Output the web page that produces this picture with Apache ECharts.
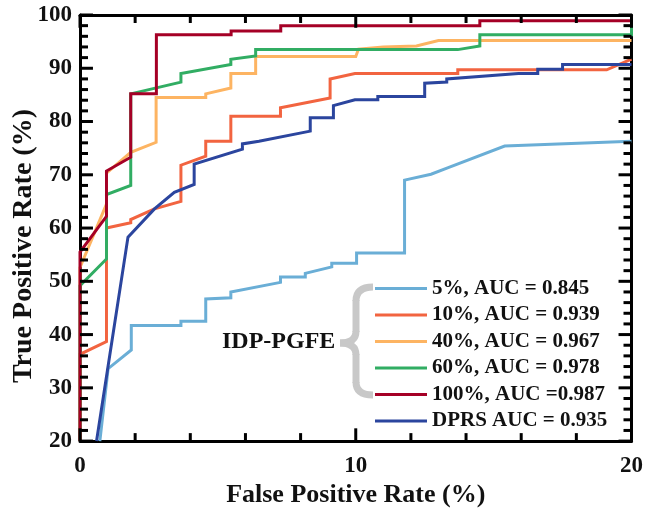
<!DOCTYPE html>
<html>
<head>
<meta charset="utf-8">
<script src="https://cdn.jsdelivr.net/npm/echarts@6/dist/echarts.min.js"></script>
<style>
html,body{margin:0;padding:0;background:#fff;}
#chart{width:646px;height:513px;}
</style>
</head>
<body>
<div id="chart"></div>
<script>
// ROC curves (FPR %, TPR %)
const roc5 = [[0.72,20],[1.02,33.6],[1.86,37.1],[1.86,41.7],[3.66,41.7],[3.66,42.5],[4.56,42.5],[4.56,46.7],[5.47,46.9],[5.47,48.0],[7.27,49.8],[7.27,50.8],[8.17,50.8],[8.17,51.5],[9.13,52.7],[9.13,53.4],[10.03,53.4],[10.03,55.3],[11.77,55.3],[11.77,69.0],[12.73,70.1],[13.33,71.3],[15.4,75.4],[20,76.3]];
const roc10 = [[0,20],[0,36.3],[0.96,38.7],[0.96,60.0],[1.84,61.0],[1.84,61.6],[2.7,63.6],[3.66,65.0],[3.66,71.8],[4.56,73.5],[4.56,76.3],[5.47,76.3],[5.47,81.0],[7.27,81.0],[7.27,82.6],[9.07,84.4],[9.07,88.0],[9.97,89.0],[13.7,89.0],[13.7,89.7],[19.1,89.7],[20,91.7]];
const roc40 = [[0,20],[0,52.6],[0.96,64.5],[0.96,70.3],[1.84,74.2],[2.76,76.1],[2.76,84.5],[4.56,84.5],[4.56,85.2],[5.47,86.3],[5.47,89.0],[6.37,89.0],[6.37,92.2],[10.0,92.2],[10.1,93.6],[11.0,94.0],[12.2,94.2],[13.0,95.2],[20,95.2]];
const roc60 = [[0,20],[0,49.2],[0.96,54.2],[0.96,66.3],[1.84,68.0],[1.84,85.2],[3.66,87.4],[3.66,89.0],[5.47,90.7],[5.47,91.7],[6.37,92.3],[6.37,93.5],[13.7,93.5],[14.5,94.2],[14.5,96.3],[20,96.3],[20,97.8]];
const roc100 = [[0,20],[0,55.5],[0.96,62.2],[0.96,70.7],[1.84,73.3],[1.84,85.2],[2.77,85.2],[2.77,96.3],[5.48,96.3],[5.48,97.0],[7.28,97.0],[7.28,98.0],[14.5,98.0],[14.5,98.9],[20,98.9]];
const rocDPRS = [[0.6,20],[1.74,58.3],[2.7,63.6],[3.42,66.7],[4.14,68.2],[4.14,72.0],[5.89,74.8],[5.89,75.8],[6.49,76.3],[8.35,78.2],[8.35,80.7],[9.19,80.7],[9.19,83.0],[9.97,84.1],[10.8,84.1],[10.8,84.7],[12.5,84.7],[12.5,87.2],[13.3,87.4],[13.3,88.0],[15.9,89.0],[16.6,89.0],[16.6,89.8],[17.5,89.8],[17.5,90.7],[20,90.7]];

const seriesNames = ['5%, AUC = 0.845','10%, AUC = 0.939','40%, AUC = 0.967','60%, AUC = 0.978','100%, AUC =0.987','DPRS AUC = 0.935'];
const seriesData = [roc5, roc10, roc40, roc60, roc100, rocDPRS];
const seriesColors = ['#6aaed6','#f26440','#fdb462','#31ad63','#a50026','#2b459e'];
const groupLabel = 'IDP-PGFE';
const xTitle = 'False Positive Rate (%)';
const yTitle = 'True Positive Rate (%)';

// tick positions
const xTickValues = [0,2,4,6,8,10,12,14,16,18,20];
const xMajorTicks = [0,10,20];
const yTickValues = [20,22,24,26,28,30,32,34,36,38,40,42,44,46,48,50,52,54,56,58,60,62,64,66,68,70,72,74,76,78,80,82,84,86,88,90,92,94,96,98,100];
const yMajorTicks = [20,30,40,50,60,70,80,90,100];

const FONT = '"Liberation Serif","Times New Roman",serif';
const X_MIN = 0, X_MAX = 20, Y_MIN = 20, Y_MAX = 100;

const chart = echarts.init(document.getElementById('chart'), null, {renderer:'canvas'});

function lineOpt(){ return {show:true, onZero:false, lineStyle:{color:'#000', width:3}}; }

const braceStyle = {stroke:'#c8c8c8', lineWidth:7, fill:null};
const baseGraphics = [
  {type:'bezierCurve', shape:{x1:373,y1:287,x2:356,y2:301,cpx1:356,cpy1:287}},
  {type:'line', shape:{x1:356,y1:300,x2:356,y2:332}},
  {type:'bezierCurve', shape:{x1:356,y1:331,x2:340,y2:343,cpx1:356,cpy1:343}},
  {type:'bezierCurve', shape:{x1:340,y1:343,x2:356,y2:355,cpx1:356,cpy1:343}},
  {type:'line', shape:{x1:356,y1:354,x2:356,y2:383}},
  {type:'bezierCurve', shape:{x1:356,y1:382,x2:373,y2:395,cpx1:356,cpy1:395}}
].map(p=>Object.assign(p,{z:10, style:Object.assign({},braceStyle)})).concat([{
    type:'text', z:10, left:222, top:330,
    style:{text:groupLabel, font:'bold 24px '+FONT, fill:'#111'}
  },{
    type:'text', z:10, x:24, y:246, rotation:Math.PI/2,
    style:{text:yTitle, font:'bold 28px '+FONT, fill:'#111', align:'center', verticalAlign:'middle'}
  }]);

// tick marks as short segments in data units (drawn through the axis scales)
const xTickLenMajor = 2.4, xTickLenMinor = 1.5;   // in TPR units (vertical ticks)
const yTickLenMajor = 0.47, yTickLenMinor = 0.29; // in FPR units (horizontal ticks)
const tickSegments = [];
xTickValues.forEach(v=>{
  const L = xMajorTicks.indexOf(v)>=0 ? xTickLenMajor : xTickLenMinor;
  tickSegments.push([[v, Y_MIN],[v, Y_MIN+L]]);
  tickSegments.push([[v, Y_MAX],[v, Y_MAX-L]]);
});
yTickValues.forEach(v=>{
  const L = yMajorTicks.indexOf(v)>=0 ? yTickLenMajor : yTickLenMinor;
  tickSegments.push([[X_MIN, v],[X_MIN+L, v]]);
  tickSegments.push([[X_MAX, v],[X_MAX-L, v]]);
});
const tickSeries = tickSegments.map((seg,i)=>({
  name:'tick'+i, type:'line', data:seg, silent:true, clip:false,
  showSymbol:false, symbol:'none', z:20,
  lineStyle:{width:3, color:'#000', cap:'butt'}, color:'#000'
}));

const option = {
  animation:false,
  backgroundColor:'#fff',
  grid:{left:80, right:11, top:15, bottom:70, containLabel:false},
  legend:{
    orient:'vertical', left:375, top:278, padding:0, itemGap:5.5,
    icon:'rect', itemWidth:52, itemHeight:3,
    data:seriesNames,
    textStyle:{fontFamily:FONT, fontWeight:'bold', fontSize:21, color:'#111'}
  },
  xAxis:[{
    type:'value', position:'bottom', min:X_MIN, max:X_MAX, interval:10,
    axisLine:lineOpt(), axisTick:{show:false}, minorTick:{show:false},
    splitLine:{show:false},
    axisLabel:{fontFamily:FONT, fontWeight:'bold', fontSize:23, color:'#111', margin:13},
    name:xTitle, nameLocation:'middle', nameGap:38,
    nameTextStyle:{fontFamily:FONT, fontWeight:'bold', fontSize:26, color:'#111'}
  },{
    type:'value', position:'top', min:X_MIN, max:X_MAX, interval:10,
    axisLine:lineOpt(), axisTick:{show:false}, minorTick:{show:false},
    splitLine:{show:false}, axisLabel:{show:false}
  }],
  yAxis:[{
    type:'value', position:'left', min:Y_MIN, max:Y_MAX, interval:10,
    axisLine:lineOpt(), axisTick:{show:false}, minorTick:{show:false},
    splitLine:{show:false},
    axisLabel:{fontFamily:FONT, fontWeight:'bold', fontSize:23, color:'#111', margin:8}
  },{
    type:'value', position:'right', min:Y_MIN, max:Y_MAX, interval:10,
    axisLine:lineOpt(), axisTick:{show:false}, minorTick:{show:false},
    splitLine:{show:false}, axisLabel:{show:false}
  }],
  graphic:baseGraphics,
  series: seriesData.map((d,i)=>({
    name:seriesNames[i], type:'line', data:d, xAxisIndex:0, yAxisIndex:0,
    showSymbol:false, symbol:'none', clip:true,
    color:seriesColors[i],
    lineStyle:{width:3, color:seriesColors[i], join:'miter'},
    z:2+i
  })).concat(tickSeries)
};
chart.setOption(option);
</script>
</body>
</html>
